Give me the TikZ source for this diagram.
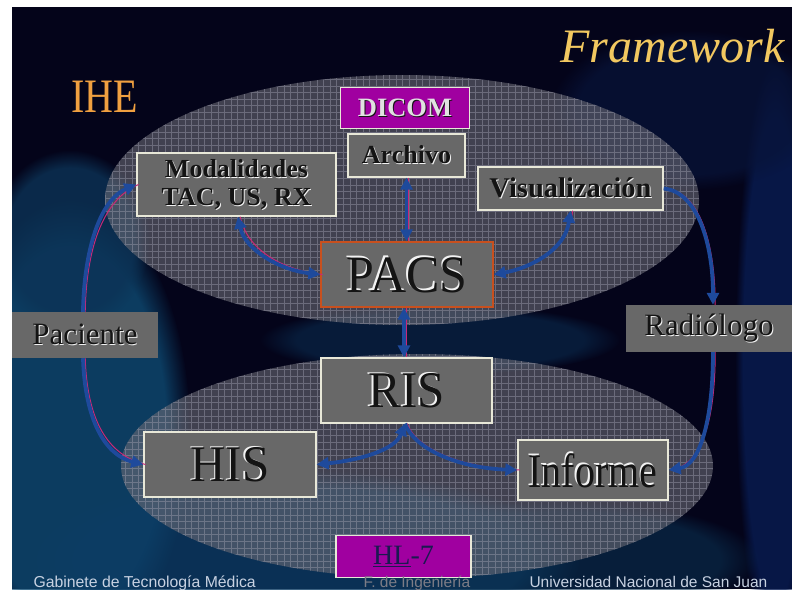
\documentclass[tikz,border=0pt]{standalone}
\usepackage{fontspec}
\usepackage{graphicx}
\setmainfont{Liberation Serif}
\newfontfamily\footfont{Liberation Sans}
\usetikzlibrary{arrows.meta,fadings}
\definecolor{bgdark}{HTML}{04041A}
\definecolor{boxgray}{HTML}{686868}
\definecolor{boxline}{HTML}{E8E8D8}
\definecolor{pacsline}{HTML}{C8501E}
\definecolor{dicomfill}{HTML}{A000A0}
\definecolor{arrblue}{HTML}{1E4A9C}
\definecolor{arrmag}{HTML}{C82878}
\definecolor{embhi}{HTML}{F2F2F2}
\definecolor{embdk}{HTML}{141414}
\definecolor{ihecol}{HTML}{F0A040}
\definecolor{fwcol}{HTML}{F2C860}
\definecolor{gridcol}{HTML}{A0A0B0}
\definecolor{ellfill}{HTML}{6A6A74}
\definecolor{hlcol}{HTML}{1A1A50}
\definecolor{footlight}{HTML}{C8D2E2}
\definecolor{footgray}{HTML}{7C7C86}
\definecolor{hazeA}{HTML}{0E4A72}
\definecolor{hazeB}{HTML}{0C3C64}
\definecolor{hazeC}{HTML}{081C52}
\definecolor{hazeD}{HTML}{08143A}
\definecolor{hazeE}{HTML}{0C3356}
\definecolor{hazeF}{HTML}{0B3258}
\definecolor{hazeG}{HTML}{0A3050}
\newcommand\emb[1]{\rlap{\kern1pt\raisebox{-1pt}{\color{embhi}#1}}{\color{embdk}#1}}
\newcommand\embb[1]{\rlap{\kern-1.4pt\raisebox{1.2pt}{\color{embhi}#1}}{\color{embdk}#1}}
\newcommand\embl[1]{\rlap{\kern1pt\raisebox{-1pt}{\color{embdk}#1}}{\color{embhi!85!gray}#1}}
\tikzset{
  box/.style={draw=boxline, fill=boxgray, line width=1.3pt, inner sep=0pt},
  tagbox/.style={fill=boxgray, inner sep=0pt},
  protobox/.style={draw=boxline, fill=dicomfill, line width=1.3pt, inner sep=0pt},
  conn/.style={draw=arrblue, line width=3.8pt,
     preaction={draw=arrmag, line width=1pt, arrows=-, transform canvas={xshift=2.2pt}}},
  onetip/.style={-{Triangle[length=12pt,width=12pt]}},
  twotip/.style={{Triangle[length=12pt,width=12pt]}-{Triangle[length=12pt,width=12pt]}},
  blob/.style={fill=#1, path fading=circle with fuzzy edge 20 percent},
}
\begin{document}
\begin{tikzpicture}[x=1pt,y=-1pt]
\useasboundingbox (0,0) rectangle (792,589);
\fill[white] (0,0) rectangle (792,589);
\fill[bgdark] (12,7) rectangle (792,589);
% background haze
\begin{scope}
\clip (12,7) rectangle (792,589);
\fill[blob=hazeA, opacity=0.8] (70,430) ellipse [x radius=120pt, y radius=230pt];
\fill[blob=hazeB, opacity=0.8] (300,560) ellipse [x radius=280pt, y radius=90pt];
\fill[blob=hazeC, opacity=0.8] (775,360) ellipse [x radius=40pt, y radius=300pt];
\fill[blob=hazeD, opacity=0.7] (690,110) ellipse [x radius=140pt, y radius=80pt];
\fill[blob=hazeE, opacity=0.8] (70,240) ellipse [x radius=80pt, y radius=90pt];
\fill[blob=hazeF, opacity=0.5] (440,340) ellipse [x radius=180pt, y radius=35pt];
\fill[blob=hazeG, opacity=0.6] (560,560) ellipse [x radius=200pt, y radius=60pt];
\end{scope}
% ellipses with grid
\begin{scope}
\clip (402,200) ellipse [x radius=297pt, y radius=125pt];
\fill[ellfill, opacity=0.6] (100,70) rectangle (700,330);
\draw[gridcol, opacity=0.45, line width=0.5pt, step=6.6pt] (100,70) grid (700,330);
\end{scope}
\begin{scope}
\clip (12,7) rectangle (792,589);
\clip (417,466) ellipse [x radius=296pt, y radius=112pt];
\fill[ellfill, opacity=0.6] (115,350) rectangle (720,589);
\draw[gridcol, opacity=0.45, line width=0.5pt, step=6.6pt] (115,350) grid (720,589);
\end{scope}
% titles
\node[anchor=base west, text=fwcol, font=\fontsize{48}{50}\selectfont\itshape] (fw) at (557,62) {Framework};
\node[anchor=base west, text=ihecol, font=\fontsize{40}{40}\selectfont] (ihe) at (68,112) {\scalebox{1}[1.2]{IHE}};
% boxes
\node[protobox, minimum width=129pt, minimum height=41pt, font=\fontsize{26.5}{28}\selectfont\bfseries] (dicom) at (405,108) {\embl{DICOM}};
\node[box, minimum width=117pt, minimum height=43pt, font=\fontsize{26}{28}\selectfont\bfseries] (archivo) at (406.5,155.5) {\emb{Archivo}};
\node[box, minimum width=199pt, minimum height=63pt, align=center, font=\fontsize{26}{28}\selectfont\bfseries] (modal) at (236.5,184.5) {\emb{Modalidades}\\\emb{TAC, US, RX}};
\node[box, minimum width=185pt, minimum height=43pt, font=\fontsize{28.5}{30}\selectfont\bfseries] (visual) at (570.5,188.5) {\emb{Visualización}};
\node[box, draw=pacsline, minimum width=172pt, minimum height=65pt, font=\fontsize{50}{52}\selectfont] (pacs) at (407,274.5) {\scalebox{1}[1.05]{\embb{PACS}}};
\node[tagbox, minimum width=146pt, minimum height=46pt, font=\fontsize{31}{32}\selectfont] (paciente) at (85,335) {\emb{Paciente}};
\node[tagbox, minimum width=166pt, minimum height=47pt, font=\fontsize{31}{32}\selectfont] (radiologo) at (709,328.5) {\emb{Radiólogo}};
\node[box, minimum width=171pt, minimum height=65pt, font=\fontsize{49}{50}\selectfont] (ris) at (406.5,390.5) {\scalebox{1}[1.05]{\embb{RIS}}};
\node[box, minimum width=172pt, minimum height=65pt, font=\fontsize{49}{50}\selectfont] (his) at (230,464.5) {\scalebox{1}[1.05]{\embb{HIS}}};
\node[box, minimum width=150pt, minimum height=60pt, font=\fontsize{40}{42}\selectfont] (informe) at (593,470) {\scalebox{1}[1.2]{\embb{Informe}}};
\node[protobox, minimum width=135pt, minimum height=42pt, font=\fontsize{28}{28}\selectfont] (hl7) at (403.5,556.5) {\color{hlcol}\underline{HL}-7};
% connectors
\draw[conn, onetip] ([xshift=-2pt]paciente.north) .. controls (84,250) and (100,200) .. (modal.west);
\draw[conn, onetip] ([xshift=-2pt]paciente.south) .. controls (85,420) and (105,455) .. (his.west);
\draw[conn, onetip] (visual.east) .. controls (700,192) and (713,250) .. ([xshift=4pt]radiologo.north);
\draw[conn, onetip] ([xshift=4pt]radiologo.south) .. controls (713,420) and (700,465) .. (informe.east);
\draw[conn, twotip] ([xshift=1.5pt]modal.south) .. controls (245,250) and (280,270) .. (pacs.west);
\draw[conn, twotip] (visual.south) .. controls (565,250) and (530,268) .. (pacs.east);
\draw[conn, twotip] (archivo.south) -- (archivo.south |- pacs.north);
\draw[conn, twotip] ([xshift=-3pt]pacs.south) -- ([xshift=-3pt]pacs.south |- ris.north);
\draw[conn, twotip] ([xshift=-1.5pt]ris.south) .. controls (395,450) and (360,460) .. (his.east);
\draw[conn, onetip] ([xshift=-1.5pt]ris.south) .. controls (415,450) and (460,468) .. (informe.west);
% footer
\node[anchor=base west, text=footlight, font=\footfont\fontsize{15.8}{16}\selectfont] (f1) at (30,587) {Gabinete de Tecnología Médica};
\node[anchor=base west, text=footgray, font=\footfont\fontsize{15.5}{16}\selectfont] (f2) at (360,587) {F. de Ingeniería};
\node[anchor=base west, text=footlight, font=\footfont\fontsize{15.5}{16}\selectfont] (f3) at (526,587) {Universidad Nacional de San Juan};
\end{tikzpicture}
\end{document}
